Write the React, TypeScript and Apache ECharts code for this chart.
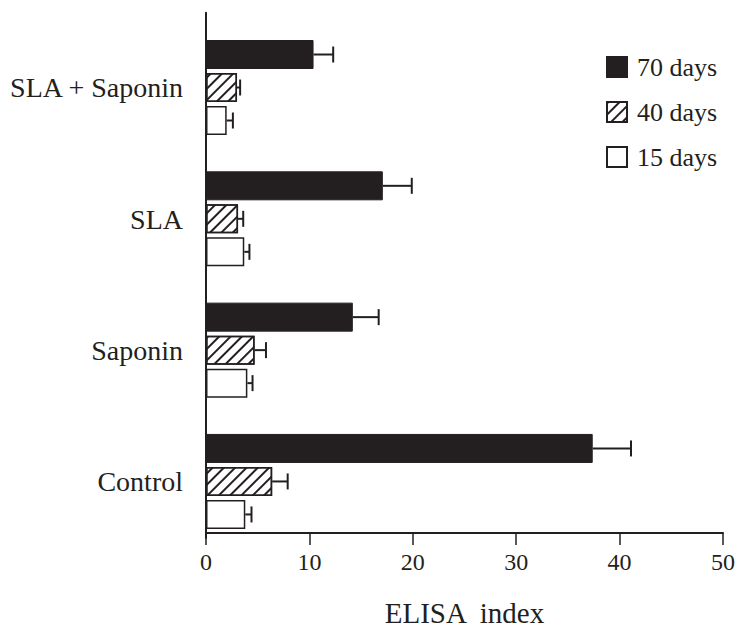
import React, { useEffect, useRef } from "react";
import * as echarts from "echarts";

const categories = ["Control", "Saponin", "SLA", "SLA + Saponin"];
const seriesNames = ["70 days", "40 days", "15 days"];
const days70 = [37.4, 14.2, 17.1, 10.4];
const err70 = [3.7, 2.5, 2.8, 1.9];
const days40 = [6.4, 4.7, 3.1, 3.0];
const err40 = [1.5, 1.1, 0.5, 0.3];
const days15 = [3.8, 4.0, 3.7, 2.0];
const err15 = [0.6, 0.5, 0.5, 0.6];
const xTicks = { min: 0, max: 50, interval: 10 };

const INK = "#231f20";
const FONT = "Liberation Serif";
const BAR_W = 29;
const GAP_PCT = 4 / 29;
const DUMMY_W = 16;
const CAP = 8;

// pixel offset of slot k's centre relative to category band centre
function slotOffset(k: number): number {
  const widthSum = DUMMY_W * (1 + GAP_PCT) + 3 * BAR_W + 2 * BAR_W * GAP_PCT;
  return -widthSum / 2 + DUMMY_W * (1 + GAP_PCT) + k * BAR_W * (1 + GAP_PCT) + BAR_W / 2;
}

function errRenderer(slot: number) {
  return (params: any, api: any) => {
    const mean = api.value(0);
    const cat = api.value(1);
    const err = api.value(2);
    const p0 = api.coord([mean, cat]);
    const p1 = api.coord([mean + err, cat]);
    const y = p0[1] + slotOffset(slot);
    return {
      type: "group",
      children: [
        { type: "line", shape: { x1: p0[0], y1: y, x2: p1[0], y2: y }, style: { stroke: INK, lineWidth: 2 } },
        { type: "line", shape: { x1: p1[0], y1: y - CAP, x2: p1[0], y2: y + CAP }, style: { stroke: INK, lineWidth: 2 } },
      ],
    };
  };
}

function errData(means: number[], errs: number[]) {
  return means.map((m, i) => [m, i, errs[i]]);
}

export default function App() {
  const ref = useRef<HTMLDivElement>(null);
  useEffect(() => {
    if (!ref.current) return;
    const chart = echarts.init(ref.current, null, { renderer: "svg" });
    const barCommon = {
      type: "bar",
      barWidth: BAR_W,
      barGap: (GAP_PCT * 100).toFixed(2) + "%",
      z: 2,
    };
    chart.setOption({
      animation: false,
      backgroundColor: "#fff",
      textStyle: { fontFamily: FONT, color: INK },
      grid: { left: 206, right: 12, top: 12.75, bottom: 89, containLabel: false, outerBoundsMode: "none" },
      legend: {
        data: seriesNames,
        orient: "vertical",
        left: 606,
        top: 54,
        padding: 0,
        itemWidth: 20,
        itemHeight: 20,
        itemGap: 19,
        icon: "rect",
        selectedMode: false,
        textStyle: { fontFamily: FONT, fontSize: 26, color: INK, padding: [0, 0, 0, 5] },
      },
      xAxis: {
        type: "value",
        ...xTicks,
        offset: -5,
        splitLine: { show: false },
        axisLine: { show: true, lineStyle: { color: INK, width: 2 } },
        axisTick: { show: true, length: 12, inside: false, lineStyle: { color: INK, width: 1.5 } },
        axisLabel: { fontFamily: FONT, fontSize: 24, color: INK, margin: 17 },
        name: "ELISA  index",
        nameLocation: "middle",
        nameGap: 65,
        nameTextStyle: { fontFamily: FONT, fontSize: 29, color: INK },
      },
      yAxis: {
        type: "category",
        data: categories,
        axisTick: { show: false },
        axisLine: { show: true, lineStyle: { color: INK, width: 2 } },
        axisLabel: {
          fontFamily: FONT,
          fontSize: 28,
          color: INK,
          margin: 23,
          verticalAlign: "top",
          lineHeight: 19,
        },
      },
      series: [
        { ...barCommon, name: "_spacer", barWidth: DUMMY_W, data: categories.map(() => null), silent: true },
        {
          ...barCommon,
          name: "70 days",
          data: days70,
          itemStyle: { color: INK, borderColor: INK, borderWidth: 1 },
        },
        {
          ...barCommon,
          name: "40 days",
          data: days40,
          itemStyle: {
            color: "#fff",
            borderColor: INK,
            borderWidth: 1.5,
            decal: {
              symbol: "rect",
              symbolSize: 1,
              color: INK,
              backgroundColor: "#fff",
              dashArrayX: [1, 0],
              dashArrayY: [1.5, 6],
              rotation: -Math.PI / 4,
            },
          },
        },
        {
          ...barCommon,
          name: "15 days",
          data: days15,
          itemStyle: { color: "#fff", borderColor: INK, borderWidth: 1.5 },
        },
        { type: "custom", name: "e70", renderItem: errRenderer(0), data: errData(days70, err70), encode: { x: 0, y: 1 }, z: 3 },
        { type: "custom", name: "e40", renderItem: errRenderer(1), data: errData(days40, err40), encode: { x: 0, y: 1 }, z: 3 },
        { type: "custom", name: "e15", renderItem: errRenderer(2), data: errData(days15, err15), encode: { x: 0, y: 1 }, z: 3 },
      ],
    });
    return () => chart.dispose();
  }, []);
  return (
    <div
      ref={ref}
      style={{ position: "absolute", left: 0, top: 0, width: 735, height: 627 }}
    />
  );
}
